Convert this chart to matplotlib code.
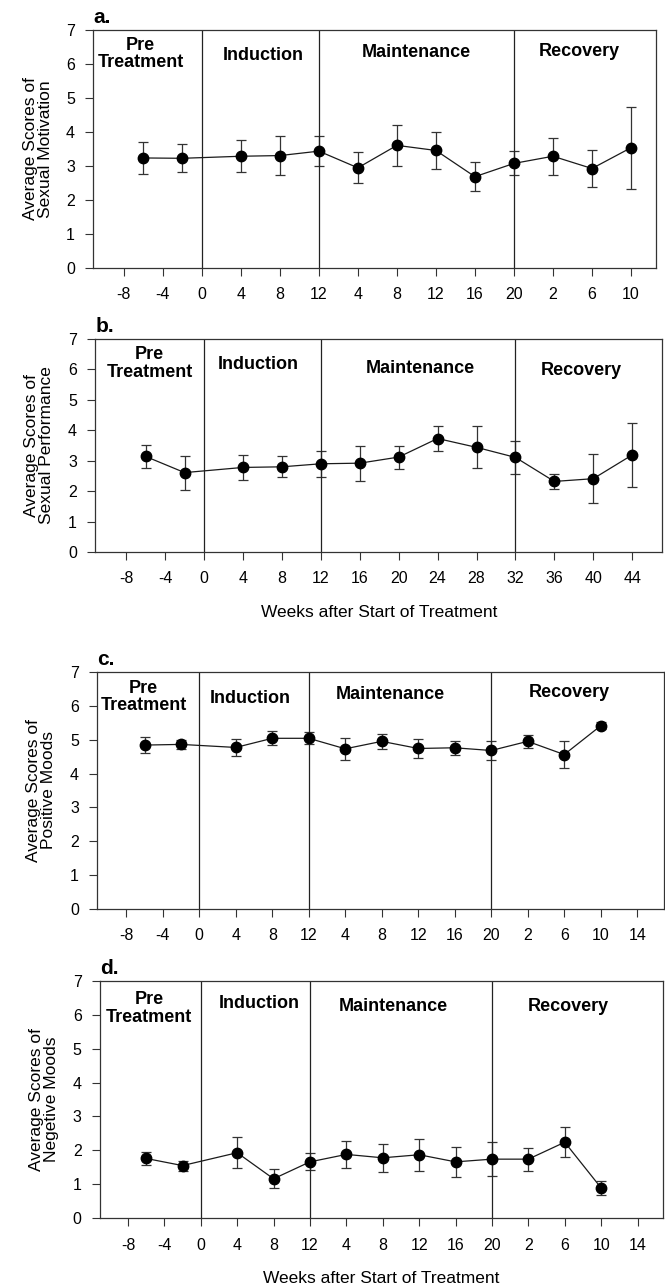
import matplotlib
matplotlib.use("Agg")
from matplotlib import pyplot as plt

plt.rcParams['font.family'] = ['Liberation Sans', 'DejaVu Sans']

# shared x positions (weeks on a continuous scale)
weeks = [-6, -2, 4, 8, 12, 16, 20, 24, 28, 32, 36, 40, 44]

# a. sexual motivation
motiv_mean = [3.23, 3.22, 3.28, 3.30, 3.43, 2.94, 3.60, 3.45, 2.68, 3.07, 3.28, 2.92, 3.53]
motiv_err = [0.46, 0.41, 0.47, 0.57, 0.45, 0.46, 0.61, 0.54, 0.42, 0.35, 0.55, 0.53, 1.21]

# b. sexual performance
perf_mean = [3.14, 2.61, 2.78, 2.80, 2.90, 2.92, 3.12, 3.73, 3.44, 3.11, 2.32, 2.41, 3.19]
perf_err = [0.37, 0.56, 0.42, 0.34, 0.42, 0.57, 0.38, 0.41, 0.69, 0.54, 0.26, 0.80, 1.05]

# c. positive moods
pos_mean = [4.84, 4.86, 4.77, 5.04, 5.04, 4.73, 4.95, 4.74, 4.76, 4.68, 4.95, 4.56, 5.41]
pos_err = [0.24, 0.14, 0.24, 0.21, 0.18, 0.32, 0.23, 0.27, 0.20, 0.28, 0.19, 0.41, 0.10]

# d. negative moods
neg_mean = [1.76, 1.55, 1.93, 1.16, 1.66, 1.88, 1.78, 1.87, 1.66, 1.74, 1.74, 2.24, 0.89]
neg_err = [0.20, 0.15, 0.46, 0.28, 0.25, 0.40, 0.42, 0.47, 0.45, 0.50, 0.34, 0.45, 0.21]

ticks_ab = [-8, -4, 0, 4, 8, 12, 16, 20, 24, 28, 32, 36, 40, 44]
labels_a = ['-8', '-4', '0', '4', '8', '12', '4', '8', '12', '16', '20', '2', '6', '10']
labels_b = ['-8', '-4', '0', '4', '8', '12', '16', '20', '24', '28', '32', '36', '40', '44']
ticks_cd = [-8, -4, 0, 4, 8, 12, 16, 20, 24, 28, 32, 36, 40, 44, 48]
labels_cd = ['-8', '-4', '0', '4', '8', '12', '4', '8', '12', '16', '20', '2', '6', '10', '14']

phase_bounds = [0, 12, 32]
phase_names = ['Pre\nTreatment', 'Induction', 'Maintenance', 'Recovery']

xlab = 'Weeks after Start of Treatment'

# panel layout: [left, bottom, width, height] in figure fractions, xlim, phase label spots
panels = [
    dict(tag='a.', mean=motiv_mean, err=motiv_err, ticks=ticks_ab, labels=labels_a,
         ylab='Average Scores of\nSexual Motivation', rect=[0.140, 0.792, 0.847, 0.185],
         xlim=(-11.15, 46.6), xlab=False,
         spots=[(-6.3, 6.28), (6.3, 6.24), (22.0, 6.32), (38.7, 6.37)]),
    dict(tag='b.', mean=perf_mean, err=perf_err, ticks=ticks_ab, labels=labels_b,
         ylab='Average Scores of\nSexual Performance', rect=[0.143, 0.5714, 0.853, 0.1654],
         xlim=(-11.2, 47.1), xlab=True,
         spots=[(-5.6, 6.19), (5.55, 6.15), (22.2, 6.04), (38.8, 5.98)]),
    dict(tag='c.', mean=pos_mean, err=pos_err, ticks=ticks_cd, labels=labels_cd,
         ylab='Average Scores of\nPositive Moods', rect=[0.146, 0.2943, 0.852, 0.184],
         xlim=(-11.2, 50.9), xlab=False,
         spots=[(-6.1, 6.26), (5.6, 6.23), (20.9, 6.33), (40.6, 6.38)]),
    dict(tag='d.', mean=neg_mean, err=neg_err, ticks=ticks_cd, labels=labels_cd,
         ylab='Average Scores of\nNegetive Moods', rect=[0.150, 0.0543, 0.847, 0.184],
         xlim=(-11.1, 50.8), xlab=True,
         spots=[(-5.7, 6.19), (6.4, 6.33), (21.2, 6.25), (40.35, 6.25)]),
]

fig = plt.figure(figsize=(6.65, 12.88), dpi=100)

for p in panels:
    ax = fig.add_axes(p['rect'])
    ax.errorbar(weeks, p['mean'], yerr=p['err'], color='#1a1a1a', ecolor='#333333',
                elinewidth=0.9, capsize=3.5, capthick=0.9, lw=0.9,
                marker='o', markersize=7.5, markerfacecolor='black', markeredgecolor='black')
    for b in phase_bounds:
        ax.axvline(b, color='#222222', lw=0.9)
    for name, (xx, yy) in zip(phase_names, p['spots']):
        ax.text(xx, yy, name, ha='center', va='center', fontsize=13,
                fontweight='bold', linespacing=1.05)
    ax.set_xlim(*p['xlim'])
    ax.set_ylim(0, 7)
    ax.set_yticks(range(8))
    ax.set_xticks(p['ticks'])
    ax.set_xticklabels(p['labels'])
    ax.tick_params(axis='both', direction='out', length=6, width=0.8, labelsize=11.5,
                   color='#333333')
    ax.tick_params(axis='x', pad=8)
    ax.tick_params(axis='y', pad=7)
    for s in ax.spines.values():
        s.set_color('#333333')
        s.set_linewidth(0.9)
    ax.set_ylabel(p['ylab'], fontsize=12.5, linespacing=1.0)
    ax.yaxis.set_label_coords(-0.072, 0.5)
    if p['xlab']:
        ax.set_xlabel(xlab, fontsize=12.5, labelpad=13)
    ax.text(0.0, 1.012, p['tag'], transform=ax.transAxes, fontsize=15,
            fontweight='bold', ha='left', va='bottom')

fig.savefig('out.png', dpi=100)
